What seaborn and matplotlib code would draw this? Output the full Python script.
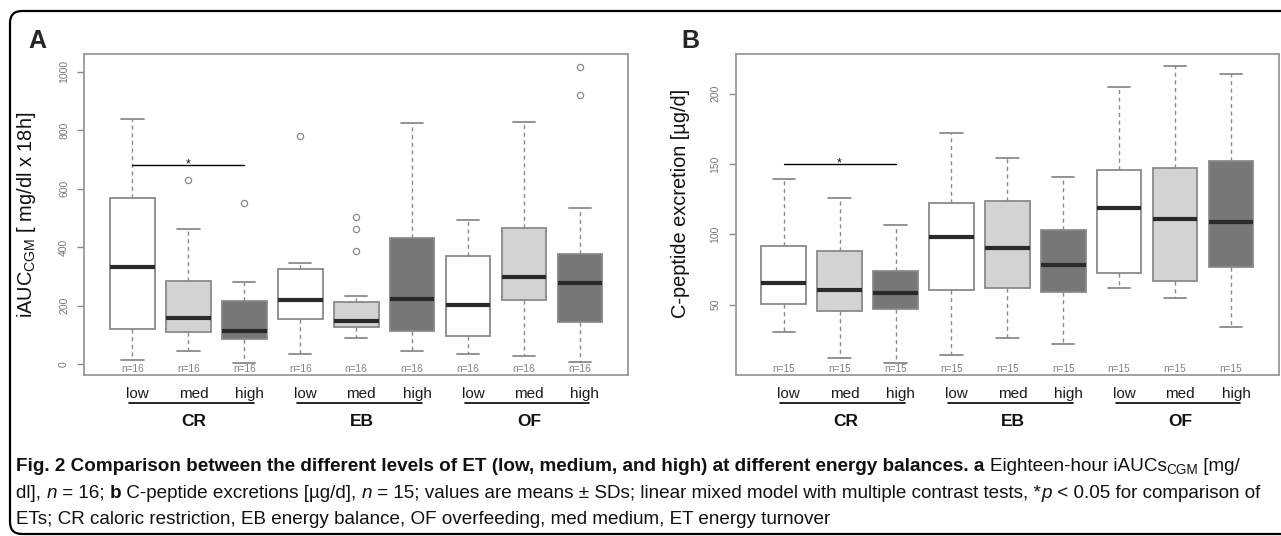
import matplotlib
matplotlib.use('Agg')
import matplotlib.pyplot as plt
import matplotlib.transforms as mtransforms
from matplotlib.patches import FancyBboxPatch
import seaborn as sns

# Categorias
niveis = ['low', 'med', 'high'] * 3
grupos = ['CR', 'EB', 'OF']
cores = ['white', '#d3d3d3', '#777777'] * 3

# Painel A - iAUC CGM (n=16)
a_whislo = [15, 43, 3, 33, 89, 43, 33, 27, 6]
a_q1 = [121, 108, 86, 153, 125, 114, 96, 220, 144]
a_med = [332, 158, 114, 220, 147, 222, 201, 298, 276]
a_q3 = [567, 284, 217, 324, 211, 431, 371, 466, 376]
a_whishi = [838, 463, 279, 344, 232, 824, 492, 827, 535]
a_fliers = [[], [629], [552], [781], [387, 462, 504], [], [], [], [920, 1015]]
a_n = [16] * 9
a_sig = 681

# Painel B - C-peptideo (n=15)
b_whislo = [30.7, 12.4, 8.8, 14.3, 26.2, 22.1, 61.9, 54.5, 34.5]
b_q1 = [50.7, 45.2, 46.7, 60.5, 61.9, 59.0, 72.6, 66.9, 77.1]
b_med = [65.5, 60.5, 58.1, 98.1, 90.5, 78.3, 118.8, 111.0, 108.8]
b_q3 = [91.7, 87.9, 74.0, 122.1, 123.6, 103.3, 146.0, 146.9, 152.1]
b_whishi = [139.3, 125.7, 106.9, 172.4, 154.0, 140.5, 204.8, 219.5, 214.0]
b_fliers = [[]] * 9
b_n = [15] * 9
b_sig = 150

sns.set_theme(style='white')
plt.rcParams['font.family'] = ['Liberation Sans', 'DejaVu Sans']
plt.rcParams['mathtext.fontset'] = 'custom'
plt.rcParams['mathtext.rm'] = 'Liberation Sans'
plt.rcParams['mathtext.it'] = 'Liberation Sans:italic'
plt.rcParams['mathtext.bf'] = 'Liberation Sans:bold'

W, H = 1281, 536
fig = plt.figure(figsize=(W / 100, H / 100), dpi=100)
fig.patch.set_facecolor('white')

cinza = '#8a8a8a'


def painel(rect, whislo, q1, med, q3, whishi, fliers, ns, ylim, yticks, ylabel, sig, label_y):
    ax = fig.add_axes(rect)
    stats = []
    for i in range(len(med)):
        stats.append(dict(whislo=whislo[i], q1=q1[i], med=med[i], q3=q3[i],
                          whishi=whishi[i], fliers=fliers[i]))
    pos = list(range(1, len(med) + 1))
    bp = ax.bxp(stats, positions=pos, widths=0.8, capwidths=0.4, patch_artist=True,
                boxprops=dict(edgecolor=cinza, linewidth=1.3),
                whiskerprops=dict(color=cinza, linestyle=(0, (3, 2.5)), linewidth=1),
                capprops=dict(color=cinza, linewidth=1.3),
                medianprops=dict(color='#2a2a2a', linewidth=3, solid_capstyle='butt'),
                flierprops=dict(marker='o', markerfacecolor='none', markeredgecolor=cinza,
                                markersize=4.5, markeredgewidth=0.9))
    for caixa, cor in zip(bp['boxes'], cores):
        caixa.set_facecolor(cor)

    ax.set_xlim(0.14, 9.86)
    ax.set_ylim(*ylim)
    ax.set_xticks(pos)
    ax.set_xticklabels([])
    ax.set_yticks(yticks)
    ax.set_yticklabels([str(t) for t in yticks], rotation=90, va='center')
    ax.tick_params(axis='x', length=5, width=1, color=cinza, direction='out')
    ax.tick_params(axis='y', length=5, width=1, color=cinza, direction='out', pad=6,
                   labelsize=7.5, labelcolor='#777777', left=True)
    for sp in ax.spines.values():
        sp.set_color('#999999')
        sp.set_linewidth(1.3)
    ax.grid(False)

    ax.set_ylabel(ylabel, fontsize=14.4, color='#111111')
    ax.yaxis.set_label_coords(-0.085, label_y)

    tr = mtransforms.blended_transform_factory(ax.transData, ax.transAxes)
    for p, n in zip(pos, ns):
        ax.text(p, 0.002, 'n=%d' % n, transform=tr, ha='center', va='bottom',
                fontsize=7.2, color='#808080')
    for p, nome in zip(pos, niveis):
        ax.text(p + 0.09, -0.061, nome, transform=tr, ha='center', va='center',
                fontsize=11, color='#1a1a1a')
    for g, nome in enumerate(grupos):
        ax.plot([g * 3 + 0.94, g * 3 + 3.17], [-0.089, -0.089], transform=tr,
                clip_on=False, color='black', linewidth=1.2)
        ax.text(g * 3 + 2.1, -0.147, nome, transform=tr, ha='center', va='center',
                fontsize=12.5, fontweight='bold', color='#111111')

    # linha de significancia
    ax.plot([1, 3], [sig, sig], color='black', linewidth=1)
    ax.annotate('*', (2, sig), xytext=(0, -1.5), textcoords='offset points',
                ha='center', va='baseline', fontsize=9, color='#111111')
    return ax


ax_a = painel([84.3 / W, (H - 374.5) / H, 543.7 / W, 320.2 / H],
              a_whislo, a_q1, a_med, a_q3, a_whishi, a_fliers, a_n,
              (-36, 1060), [0, 200, 400, 600, 800, 1000],
              r'iAUC$_{\mathrm{CGM}}$ [ mg/dl x 18h]', a_sig, 0.5)
ax_b = painel([735.7 / W, (H - 374.5) / H, 543.3 / W, 320.2 / H],
              b_whislo, b_q1, b_med, b_q3, b_whishi, b_fliers, b_n,
              (0.4, 228), [50, 100, 150, 200],
              'C-peptide excretion [µg/d]', b_sig, 0.535)

fig.text(37.5 / W, 1 - 41 / H, 'A', fontsize=18, fontweight='bold', ha='center', va='center')
fig.text(690 / W, 1 - 41 / H, 'B', fontsize=18, fontweight='bold', ha='center', va='center')

# moldura arredondada
moldura = FancyBboxPatch((0.10, 0.02), 13.0, 5.25 - 0.02,
                         boxstyle='round,pad=0,rounding_size=0.12',
                         transform=fig.dpi_scale_trans, facecolor='none',
                         edgecolor='black', linewidth=1.6, clip_on=False)
fig.patches.append(moldura)

# legenda
cap_font = ['Liberation Sans', 'DejaVu Sans']
cap_size = 13.6
renderer = fig.canvas.get_renderer()


def escreve(partes, x0, y):
    x = x0
    for txt, kw in partes:
        kw = dict(kw)
        size = kw.pop('size', cap_size)
        dy = kw.pop('dy', 0)
        t = fig.text(x / W, 1 - (y + dy) / H, txt, family=cap_font, fontsize=size,
                     va='baseline', ha='left', color='#111111', **kw)
        bb = t.get_window_extent(renderer)
        x += bb.width


B = dict(fontweight='bold')
R = dict()
I = dict(style='italic')
SUB = dict(size=9.8, dy=3)

escreve([('Fig. 2 Comparison between the different levels of ET (low, medium, and high) '
          'at different energy balances. a ', B),
         ('Eighteen-hour iAUCs', R), ('CGM', SUB), (' [mg/', R)], 16, 471)
escreve([('dl], ', R), ('n', I), (' = 16; ', R), ('b', B),
         (' C-peptide excretions [µg/d], ', R), ('n', I),
         (' = 15; values are means ± SDs; linear mixed model with multiple contrast tests, *', R),
         ('p', I), (' < 0.05 for comparison of', R)], 16, 498)
escreve([('ETs; CR caloric restriction, EB energy balance, OF overfeeding, med medium, '
          'ET energy turnover', R)], 16, 524)

fig.savefig('out.png', dpi=100)
